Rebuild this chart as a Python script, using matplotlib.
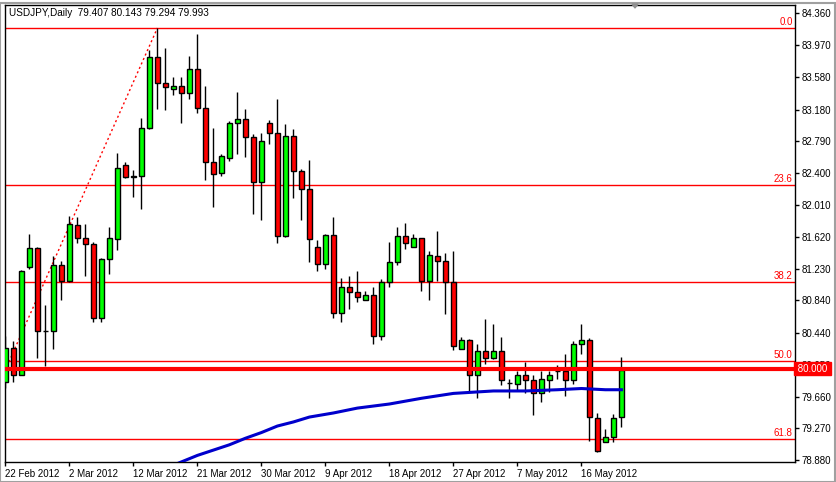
import numpy as np
import matplotlib.pyplot as plt
from matplotlib.patches import Rectangle, Polygon

# daily USDJPY bars, 22 Feb 2012 .. 22 May 2012 (Sunday bars included)
opens = [79.84, 80.26, 79.93, 81.25, 81.48, 80.47, 80.47, 81.28, 81.08, 81.77,
         81.61, 81.53, 80.63, 81.35, 81.59, 82.50, 82.35, 82.37, 82.95, 83.83,
         83.50, 83.43, 83.47, 83.38, 83.68, 83.20, 82.54, 82.40, 82.59, 83.02,
         83.07, 82.84, 82.29, 83.02, 82.89, 81.63, 82.85, 82.43, 82.21, 81.50,
         81.29, 81.64, 80.69, 81.00, 80.94, 80.84, 80.91, 80.40, 81.06, 81.31,
         81.63, 81.50, 81.60, 81.08, 81.39, 81.32, 81.06, 80.25, 80.36, 79.93,
         80.22, 80.13, 80.22, 79.83, 79.82, 79.92, 79.87, 79.71, 79.87, 79.97,
         79.98, 79.87, 80.31, 80.36, 79.40, 79.11, 79.17, 79.407]
highs = [80.40, 80.34, 81.21, 81.66, 81.49, 80.78, 81.39, 81.32, 81.87, 81.86,
         81.78, 81.56, 81.36, 81.74, 82.65, 82.54, 82.44, 83.08, 83.91, 84.18,
         83.94, 83.58, 83.58, 83.84, 84.11, 83.47, 82.95, 82.64, 83.04, 83.39,
         83.19, 82.88, 82.89, 83.05, 83.31, 83.00, 82.94, 82.45, 82.56, 81.58,
         81.66, 81.86, 81.12, 81.14, 81.20, 80.95, 81.00, 81.10, 81.56, 81.74,
         81.79, 81.66, 81.61, 81.44, 81.69, 81.42, 81.44, 80.39, 80.37, 80.30,
         80.61, 80.55, 80.39, 79.88, 79.98, 80.08, 79.93, 79.98, 79.98, 80.05,
         80.18, 80.34, 80.55, 80.38, 79.46, 79.26, 79.45, 80.143]
lows = [79.77, 79.84, 79.92, 81.23, 80.13, 80.03, 80.25, 80.84, 81.07, 81.54,
        81.14, 80.58, 80.58, 81.17, 81.46, 82.34, 82.11, 81.96, 82.94, 83.19,
        83.17, 83.36, 83.02, 83.31, 83.14, 82.32, 81.98, 82.37, 82.55, 82.64,
        82.60, 81.90, 81.83, 82.76, 81.55, 81.62, 82.09, 81.83, 81.31, 81.20,
        81.22, 80.62, 80.57, 80.73, 80.82, 80.84, 80.30, 80.36, 81.00, 81.27,
        81.47, 81.49, 80.96, 80.85, 81.08, 80.67, 80.23, 80.25, 79.73, 79.64,
        80.06, 80.12, 79.80, 79.64, 79.73, 79.70, 79.43, 79.60, 79.72, 79.88,
        79.67, 79.81, 80.18, 79.12, 78.98, 79.10, 79.11, 79.294]
closes = [80.26, 79.93, 81.20, 81.48, 80.46, 80.47, 81.28, 81.08, 81.78, 81.61,
          81.53, 80.63, 81.35, 81.60, 82.46, 82.35, 82.37, 82.96, 83.83, 83.50,
          83.46, 83.47, 83.38, 83.68, 83.20, 82.54, 82.39, 82.61, 83.01, 83.07,
          82.84, 82.29, 82.79, 82.89, 81.63, 82.85, 82.43, 82.21, 81.59, 81.29,
          81.64, 80.69, 81.00, 80.94, 80.88, 80.91, 80.40, 81.06, 81.31, 81.63,
          81.54, 81.60, 81.08, 81.40, 81.32, 81.06, 80.28, 80.36, 79.93, 80.22,
          80.13, 80.22, 79.86, 79.83, 79.92, 79.87, 79.71, 79.88, 79.93, 79.98,
          79.86, 80.30, 80.36, 79.41, 78.99, 79.17, 79.40, 79.993]

# moving average (bar index, price)
ma_idx = [20, 22, 24, 28, 30, 32, 34, 36, 38, 41, 44, 48, 52, 56, 61, 65, 69, 72, 75, 77]
ma_val = [78.78, 78.86, 78.94, 79.07, 79.15, 79.22, 79.30, 79.35, 79.41, 79.46,
          79.52, 79.57, 79.64, 79.70, 79.73, 79.73, 79.745, 79.76, 79.745, 79.745]

date_labels = ['22 Feb 2012', '2 Mar 2012', '12 Mar 2012', '21 Mar 2012', '30 Mar 2012',
               '9 Apr 2012', '18 Apr 2012', '27 Apr 2012', '7 May 2012', '16 May 2012']
price_ticks = [84.360, 83.970, 83.580, 83.180, 82.790, 82.400, 82.010, 81.620,
               81.230, 80.840, 80.440, 80.050, 79.660, 79.270, 78.880]

# fibonacci retracement from the Feb low to the 15 Mar high
fib_high = 84.18
fib_low = 76.02
fib_low_idx = -18
fib_high_idx = 19
fib_ratios = [0.0, 0.236, 0.382, 0.5, 0.618]
level_line = 80.000

FONT = 'Liberation Sans'
FS = 7
fig = plt.figure(figsize=(8.37, 4.82), dpi=100)
fig.patch.set_facecolor('white')
ax = fig.add_axes([5/837, 1-462/482, 790/837, 457/482])
ax.set_xlim(-0.05, 98.7)
ax.set_ylim(78.859, 84.462)

# window frame
fig.add_artist(Rectangle((0.5/837, 0.5/482), 835/837, 479/482, transform=fig.transFigure,
                         fill=False, edgecolor='#a0a0a0', lw=1.5))

x = np.arange(len(opens))
o = np.array(opens); c = np.array(closes)
colors = np.where(c > o, '#00ff00', np.where(c < o, '#ff0000', 'black'))
ax.vlines(x, lows, highs, color='black', lw=1, zorder=3)
ax.bar(x, np.abs(c - o), bottom=np.minimum(o, c), width=0.6, color=colors,
       edgecolor='black', linewidth=1, zorder=4)

# fib lines
for r in fib_ratios:
    lvl = fib_high - r * (fib_high - fib_low)
    ax.axhline(lvl, color='#ff0000', lw=1, zorder=2)
    ax.text(98.4, lvl + 0.015, '%.1f' % (r * 100), color='#ff0000', ha='right',
            va='bottom', fontsize=FS, family=FONT)
ax.plot([fib_low_idx, fib_high_idx], [fib_low, fib_high], color='#ff0000', lw=1,
        ls=(0, (1.5, 2)), zorder=2)

ax.axhline(level_line, color='#ff0000', lw=3, zorder=5)
ax.plot(ma_idx, ma_val, color='#0000cc', lw=2.2, zorder=6)

# axes styling
for s in ax.spines.values():
    s.set_color('black'); s.set_linewidth(1)
ax.yaxis.tick_right()
ax.set_yticks(price_ticks)
ax.set_yticklabels(['%.3f' % p for p in price_ticks])
ax.set_xticks(np.arange(0, 73, 8))
ax.set_xticklabels(date_labels, ha='left')
ax.tick_params(axis='both', length=3, width=1, pad=2, labelsize=FS, colors='black')
for lab in ax.get_xticklabels() + ax.get_yticklabels():
    lab.set_family(FONT)

ax.text(1.0, level_line, ' 80.000 ', transform=ax.get_yaxis_transform(), ha='left',
        va='center', color='white', fontsize=FS, family=FONT, zorder=10,
        bbox=dict(boxstyle='square,pad=0.15', fc='#ff0000', ec='#ff0000'), clip_on=False)

fig.text(9/837, 1-13/482, 'USDJPY,Daily  79.407 80.143 79.294 79.993', ha='left',
         va='center', fontsize=7.2, family=FONT, color='black')
fig.add_artist(Polygon([[632/837, 1-4/482], [638/837, 1-4/482], [635/837, 1-8/482]],
                       closed=True, transform=fig.transFigure, fc='#909090', ec='#909090'))

fig.savefig('out.png', dpi=100)
